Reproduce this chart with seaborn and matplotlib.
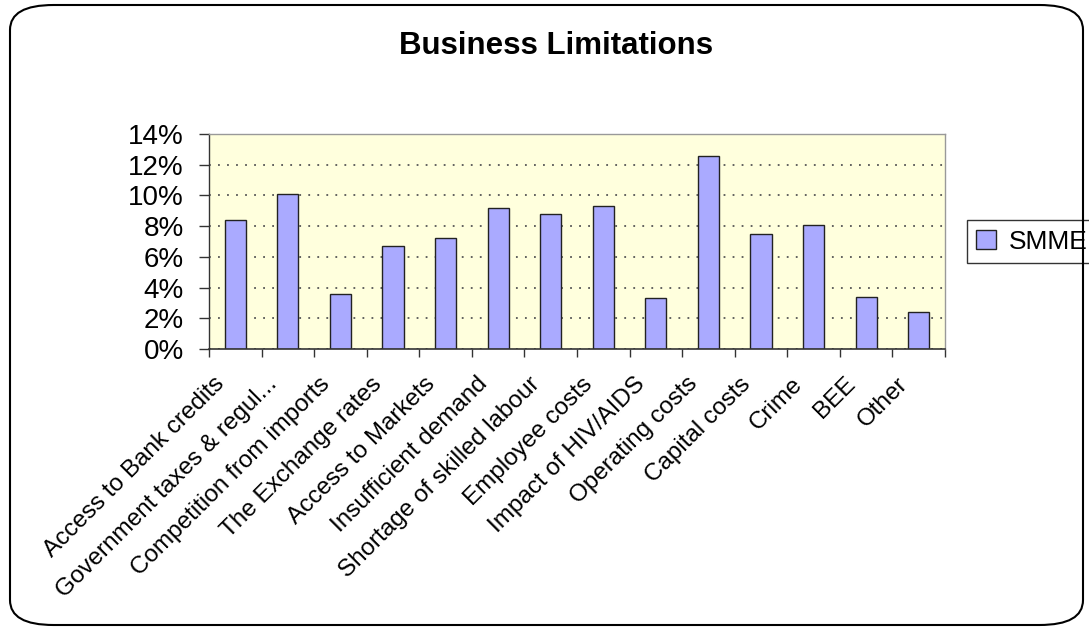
import matplotlib
matplotlib.use("Agg")
import matplotlib.pyplot as plt
import matplotlib.transforms as mtransforms
import seaborn as sns
import pandas as pd
import numpy as np
from matplotlib.patches import FancyBboxPatch
from matplotlib.ticker import FuncFormatter, FixedLocator

categories = ["Access to Bank credits", "Government taxes & regul...", "Competition from imports",
              "The Exchange rates", "Access to Markets", "Insufficient demand",
              "Shortage of skilled labour", "Employee costs", "Impact of HIV/AIDS",
              "Operating costs", "Capital costs", "Crime", "BEE", "Other"]
smme = [8.4, 10.1, 3.6, 6.7, 7.2, 9.2, 8.8, 9.3, 3.3, 12.6, 7.5, 8.1, 3.4, 2.4]
yticks = [0, 2, 4, 6, 8, 10, 12, 14]

sns.set_theme(style="white")
plt.rcParams['font.family'] = ['Liberation Sans', 'DejaVu Sans']
plt.rcParams['text.color'] = 'black'
plt.rcParams['xtick.color'] = 'black'
plt.rcParams['ytick.color'] = 'black'

fig = plt.figure(figsize=(10.89, 6.31), dpi=100)
ax = fig.add_axes([209/1089, 1-349/631, (945-209)/1089, (349-134)/631])

df = pd.DataFrame({"cat": categories, "val": smme, "series": "SMME"})
sns.barplot(data=df, x="cat", y="val", hue="series", ax=ax, width=0.4,
            palette=["#AAAAFF"], edgecolor="#222222", linewidth=1.0, saturation=1)

ax.set_facecolor("#FFFFDD")
ax.set_ylim(0, 14)
ax.set_xlim(-0.5, len(categories) - 0.5)
ax.set_yticks(yticks)
ax.yaxis.set_major_formatter(FuncFormatter(lambda v, p: f"{int(v)}%"))
ax.grid(axis="y", linestyle=(0, (1, 4)), color="#555555", linewidth=1.3)
ax.set_axisbelow(True)
ax.set_xlabel("")
ax.set_ylabel("")

# x labels: drawn at category positions, shifted to match reference placement
ax.set_xticks(range(len(categories)))
ax.set_xticklabels([])
offset = mtransforms.ScaledTranslation(-22/100, -24/100, fig.dpi_scale_trans)
trans = ax.get_xaxis_transform() + offset
for i, cat in enumerate(categories):
    ax.text(i, 0, cat, transform=trans, rotation=45, ha="right", va="top",
            rotation_mode="anchor", fontsize=17.5, clip_on=False)

ax.xaxis.set_minor_locator(FixedLocator(np.arange(-0.5, len(categories), 1.0)))
ax.tick_params(axis="x", which="major", length=0)
ax.tick_params(axis="x", which="minor", length=6, width=1, color="#333333", direction="out", bottom=True)
ax.tick_params(axis="y", which="major", length=7.2, width=1, color="#333333", direction="out", left=True, labelsize=20, pad=11)

for s in ["top", "right"]:
    ax.spines[s].set_color("#999999")
    ax.spines[s].set_linewidth(1)
ax.spines["left"].set_color("#333333")
ax.spines["bottom"].set_color("#333333")
ax.spines["left"].set_linewidth(1)
ax.spines["bottom"].set_linewidth(1.2)

leg = ax.legend(loc="center left", bbox_to_anchor=(1.03, 0.5), frameon=True, fontsize=19,
                handlelength=0.75, handleheight=0.75, handletextpad=0.5, borderpad=0.35,
                borderaxespad=0, fancybox=False, edgecolor="#000000")
leg.get_frame().set_linewidth(1)

fig.text(556/1089, 1-46/631, "Business Limitations", ha="center", va="center",
         fontsize=22.5, fontweight="bold")

border = FancyBboxPatch((10/1089, 6/631), (1083-10)/1089, (626-6)/631,
                        boxstyle="round,pad=0,rounding_size=0.04", transform=fig.transFigure,
                        fill=False, edgecolor="#000000", linewidth=1.5, mutation_aspect=631/1089*1.7)
fig.patches.append(border)

fig.savefig("out.png", dpi=100)
